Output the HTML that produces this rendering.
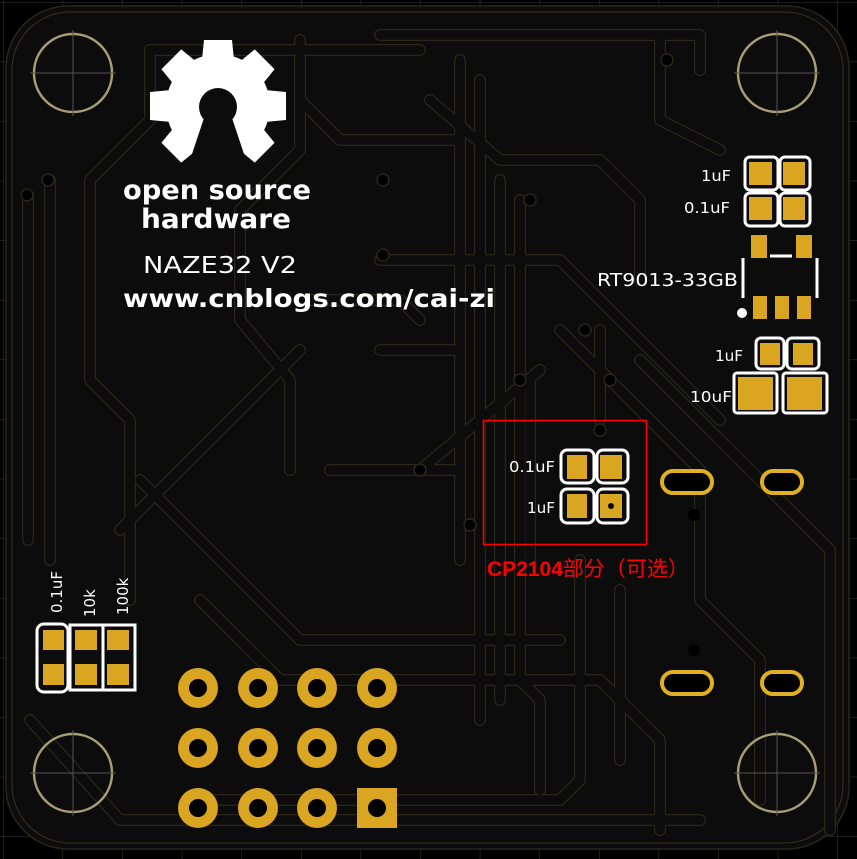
<!DOCTYPE html>
<html><head><meta charset="utf-8"><style>
html,body{margin:0;padding:0;background:#000;width:857px;height:859px;overflow:hidden}
svg{display:block}
text{font-family:"DejaVu Sans","Liberation Sans","Noto Sans CJK SC",sans-serif}
</style></head><body>
<svg width="857" height="859" viewBox="0 0 857 859" xmlns="http://www.w3.org/2000/svg">
<defs>
<pattern id="g" x="3" y="2" width="59.6" height="59.6" patternUnits="userSpaceOnUse">
<path d="M0 0V59.6M0 0H59.6" stroke="#3a3a3a" stroke-width="1" fill="none"/>
</pattern>
</defs>
<rect width="857" height="859" fill="#000"/>
<rect width="857" height="859" fill="url(#g)"/>
<rect x="6" y="6" width="843" height="843" rx="62" fill="#0c0c0c" stroke="#2a2616" stroke-width="1.5"/>
<rect x="12" y="12" width="831" height="831" rx="58" fill="none" stroke="#3a3320" stroke-width="1"/>
<g fill="none" stroke-linecap="round" stroke-linejoin="round">
<g stroke="#2a2618" stroke-width="12">
<path d="M50 180V560M28 195V540M150 50H420M150 50V120L90 180V380L130 420V600"/>
<path d="M300 40V150L240 210V320L290 380V470M380 35H700V70"/>
<path d="M460 60V560M480 80V720M500 180V700M520 200V680L540 700V790"/>
<path d="M430 100L500 160H600L640 200V280M380 350H460M420 320L400 300H300"/>
<path d="M200 600L280 680H600L660 740V830M140 480L300 640H560"/>
<path d="M560 330L700 470V600L760 660V800M600 300L720 420M640 360L830 550V830"/>
<path d="M380 260H560L600 300M300 350L120 530M330 470H460M420 470L540 370"/>
<path d="M580 560V780L560 800H200M620 590V760M600 330V420M530 380V560"/>
<path d="M660 40V120L720 150M30 720L120 820H700M300 100L340 140H460"/>
</g>
<g stroke="#0c0c0c" stroke-width="9.5">
<path d="M50 180V560M28 195V540M150 50H420M150 50V120L90 180V380L130 420V600"/>
<path d="M300 40V150L240 210V320L290 380V470M380 35H700V70"/>
<path d="M460 60V560M480 80V720M500 180V700M520 200V680L540 700V790"/>
<path d="M430 100L500 160H600L640 200V280M380 350H460M420 320L400 300H300"/>
<path d="M200 600L280 680H600L660 740V830M140 480L300 640H560"/>
<path d="M560 330L700 470V600L760 660V800M600 300L720 420M640 360L830 550V830"/>
<path d="M380 260H560L600 300M300 350L120 530M330 470H460M420 470L540 370"/>
<path d="M580 560V780L560 800H200M620 590V760M600 330V420M530 380V560"/>
<path d="M660 40V120L720 150M30 720L120 820H700M300 100L340 140H460"/>
</g>
</g>
<g fill="#000" stroke="#2a2618" stroke-width="1.5">
<circle cx="48" cy="180" r="6"/><circle cx="27" cy="195" r="6"/><circle cx="383" cy="180" r="6"/>
<circle cx="383" cy="255" r="6"/><circle cx="420" cy="470" r="6"/><circle cx="470" cy="525" r="6"/>
<circle cx="520" cy="380" r="6"/><circle cx="610" cy="380" r="6"/><circle cx="600" cy="430" r="6"/>
<circle cx="667" cy="60" r="6"/><circle cx="530" cy="200" r="6"/><circle cx="585" cy="330" r="6"/>
</g>
<g fill="none" stroke="#a89d74" stroke-width="2.5">
<circle cx="73" cy="73" r="39"/><circle cx="777" cy="73" r="39"/>
<circle cx="73" cy="773" r="39"/><circle cx="777" cy="773" r="39"/>
</g>
<g stroke="#555" stroke-width="1">
<path d="M73 30V116M30 73H116M777 30V116M734 73H820M73 730V816M30 773H116M777 730V816M734 773H820"/>
</g>
<g fill="#fff">
<circle cx="218" cy="106" r="52"/>
<g>
<path d="M204 40H232L235 70H201Z"/>
<path d="M204 40H232L235 70H201Z" transform="rotate(45 218 106)"/>
<path d="M204 38H232L235 70H201Z" transform="rotate(90 218 106)"/>
<path d="M204 40H232L235 70H201Z" transform="rotate(135 218 106)"/>
<path d="M204 40H232L235 70H201Z" transform="rotate(-45 218 106)"/>
<path d="M204 38H232L235 70H201Z" transform="rotate(-90 218 106)"/>
<path d="M204 40H232L235 70H201Z" transform="rotate(-135 218 106)"/>
</g>
</g>
<circle cx="218" cy="107" r="19" fill="#0c0c0c"/>
<path d="M205 115L231 115L250 172L186 172Z" fill="#0c0c0c"/>
<g fill="#fff">
<text x="123" y="199" font-size="27" font-weight="bold" textLength="188" lengthAdjust="spacingAndGlyphs">open source</text>
<text x="141" y="228" font-size="27" font-weight="bold" textLength="150" lengthAdjust="spacingAndGlyphs">hardware</text>
<text x="143" y="273" font-size="23" textLength="154" lengthAdjust="spacingAndGlyphs">NAZE32 V2</text>
<text x="123" y="307" font-size="25" font-weight="bold" textLength="372" lengthAdjust="spacingAndGlyphs">www.cnblogs.com/cai-zi</text>
</g>
<g fill="none" stroke="#fff" stroke-width="3">
<rect x="745" y="157" width="33" height="33" rx="5"/><rect x="780" y="157" width="30" height="33" rx="5"/>
<rect x="745" y="193" width="33" height="33" rx="5"/><rect x="780" y="193" width="30" height="33" rx="5"/>
<path d="M743 258V298M817 258V298M770 256H792"/>
<rect x="756" y="338" width="28" height="31" rx="5"/><rect x="787" y="338" width="32" height="31" rx="5"/>
<rect x="734" y="373" width="43" height="40" rx="3"/><rect x="783" y="373" width="44" height="40" rx="3"/>
</g>
<g fill="#daa520">
<rect x="749" y="162" width="23" height="23"/><rect x="783" y="162" width="22" height="23"/>
<rect x="749" y="197" width="23" height="23"/><rect x="783" y="197" width="22" height="23"/>
<rect x="751" y="235" width="16" height="23"/><rect x="796" y="235" width="16" height="23"/>
<rect x="753" y="296" width="14" height="23"/><rect x="775" y="296" width="14" height="23"/><rect x="797" y="296" width="14" height="23"/>
<rect x="760" y="343" width="20" height="22"/><rect x="793" y="343" width="20" height="22"/>
<rect x="738" y="377" width="35" height="33"/><rect x="787" y="377" width="35" height="33"/>
</g>
<circle cx="742" cy="313" r="5" fill="#fff"/>
<g fill="#fff" font-size="15">
<text x="701" y="181" textLength="30" lengthAdjust="spacingAndGlyphs">1uF</text>
<text x="684" y="213" textLength="46" lengthAdjust="spacingAndGlyphs">0.1uF</text>
<text x="597" y="286" font-size="18" textLength="141" lengthAdjust="spacingAndGlyphs">RT9013-33GB</text>
<text x="715" y="361" textLength="28" lengthAdjust="spacingAndGlyphs">1uF</text>
<text x="690" y="402" textLength="42" lengthAdjust="spacingAndGlyphs">10uF</text>
</g>
<rect x="483.5" y="420.5" width="163" height="124" fill="none" stroke="#f00" stroke-width="1.5"/>
<g fill="none" stroke="#fff" stroke-width="3">
<rect x="561" y="450" width="33" height="33" rx="6"/><rect x="597" y="450" width="31" height="33" rx="6"/>
<rect x="561" y="489" width="33" height="34" rx="6"/><rect x="597" y="489" width="31" height="34" rx="6"/>
</g>
<g fill="#daa520">
<rect x="567" y="455" width="20" height="24"/><rect x="600" y="455" width="22" height="24"/>
<rect x="567" y="494" width="20" height="24"/><rect x="600" y="494" width="22" height="24"/>
</g>
<circle cx="611" cy="506" r="3" fill="#000"/>
<g fill="#fff" font-size="15">
<text x="509" y="472" textLength="46" lengthAdjust="spacingAndGlyphs">0.1uF</text>
<text x="527" y="513" textLength="28" lengthAdjust="spacingAndGlyphs">1uF</text>
</g>
<text x="487" y="576" fill="#f00" font-size="21" font-weight="bold" style="font-family:'Liberation Sans','Noto Sans CJK SC',sans-serif">CP2104<tspan font-weight="normal">部分（可选）</tspan></text>
<g fill="#000" stroke="#e0b020" stroke-width="4">
<rect x="662" y="471" width="50" height="22" rx="11"/><rect x="762" y="471" width="40" height="22" rx="11"/>
<rect x="662" y="672" width="50" height="22" rx="11"/><rect x="762" y="672" width="40" height="22" rx="11"/>
</g>
<circle cx="694" cy="515" r="6" fill="#000"/><circle cx="694" cy="650" r="6" fill="#000"/>
<g fill="none" stroke="#fff" stroke-width="3">
<rect x="37" y="624" width="31" height="68" rx="7"/>
<path d="M70 625H135V690H70ZM103 625V690"/>
</g>
<g fill="#daa520">
<rect x="43" y="630" width="21" height="20"/><rect x="75" y="630" width="22" height="20"/><rect x="107" y="630" width="22" height="20"/>
<rect x="43" y="664" width="21" height="21"/><rect x="75" y="664" width="22" height="21"/><rect x="107" y="664" width="22" height="21"/>
</g>
<g fill="#fff" font-size="15">
<text transform="translate(62 613) rotate(-90)">0.1uF</text>
<text transform="translate(95 617) rotate(-90)">10k</text>
<text transform="translate(128 615) rotate(-90)">100k</text>
</g>
<g fill="#daa520">
<circle cx="198" cy="688" r="20"/><circle cx="258" cy="688" r="20"/><circle cx="317" cy="688" r="20"/><circle cx="377" cy="688" r="20"/>
<circle cx="198" cy="748" r="20"/><circle cx="258" cy="748" r="20"/><circle cx="317" cy="748" r="20"/><circle cx="377" cy="748" r="20"/>
<circle cx="198" cy="808" r="20"/><circle cx="258" cy="808" r="20"/><circle cx="317" cy="808" r="20"/>
<rect x="357" y="788" width="40" height="40"/>
</g>
<g fill="#000">
<circle cx="198" cy="688" r="9"/><circle cx="258" cy="688" r="9"/><circle cx="317" cy="688" r="9"/><circle cx="377" cy="688" r="9"/>
<circle cx="198" cy="748" r="9"/><circle cx="258" cy="748" r="9"/><circle cx="317" cy="748" r="9"/><circle cx="377" cy="748" r="9"/>
<circle cx="198" cy="808" r="9"/><circle cx="258" cy="808" r="9"/><circle cx="317" cy="808" r="9"/><circle cx="377" cy="808" r="9"/>
</g>
</svg>
</body></html>
